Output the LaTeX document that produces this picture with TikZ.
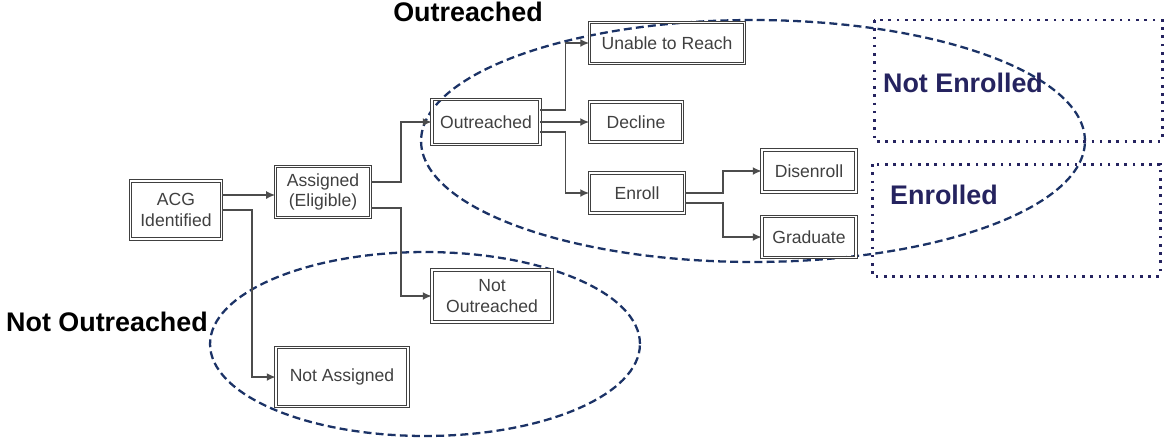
\documentclass[tikz,border=0pt]{standalone}
\usepackage{fontspec}
\setmainfont{Liberation Sans}
\usetikzlibrary{arrows.meta,calc,positioning}
\definecolor{navy}{HTML}{1B3266}
\definecolor{indigo}{HTML}{25235F}
\definecolor{boxtext}{HTML}{404040}
\tikzset{
  box/.style={draw=black!75,double,double distance=0.9pt,line width=0.55pt,
    inner sep=0pt,align=center,text=boxtext,font=\fontsize{10}{11.5}\selectfont},
  conn/.style={-{Latex[length=5pt,width=4.5pt]},draw=black!70,line width=0.75pt},
  group/.style={draw=navy,line width=1.3pt,dash pattern=on 4.5pt off 2.4pt},
  dotbox/.style={draw=indigo,line width=1.7pt,dash pattern=on 1.5pt off 3.2pt},
  title/.style={font=\bfseries\fontsize{15.3}{17}\selectfont},
  every node/.style={font=\small}
}
\begin{document}
\begin{tikzpicture}[x=0.02cm,y=-0.02cm]
\useasboundingbox (0,0) rectangle (1165,437);
% groups
\draw[group] (753,141) ellipse [x radius=6.64cm,y radius=2.42cm];
\draw[group] (425,344) ellipse [x radius=4.3cm,y radius=1.84cm];
\draw[dotbox] (874,20) rectangle (1162,141);
\draw[dotbox] (872,164) rectangle (1160,276);
\node[title] (tOut) at (468,12) {Outreached};
\node[title] (tNou) at (107,322) {Not Outreached};
\node[title,text=indigo] (tNen) at (963,83) {Not Enrolled};
\node[title,text=indigo] (tEnr) at (944,195) {Enrolled};
% boxes
\node[box,minimum width=1.82cm,minimum height=1.16cm] (acg) at (176,210) {ACG\\Identified};
\node[box,minimum width=1.9cm,minimum height=1.02cm] (ass) at (323,192) {Assigned\\(Eligible)};
\node[box,minimum width=2.16cm,minimum height=0.9cm] (out) at (486,122) {Outreached};
\node[box,minimum width=3.1cm,minimum height=0.82cm] (unr) at (667,43) {Unable to Reach};
\node[box,minimum width=1.86cm,minimum height=0.8cm] (dec) at (636,122) {Decline};
\node[box,minimum width=1.9cm,minimum height=0.8cm] (enr) at (637,193) {Enroll};
\node[box,minimum width=1.88cm,minimum height=0.84cm] (dis) at (809,171) {Disenroll};
\node[box,minimum width=1.88cm,minimum height=0.82cm] (gra) at (809,237) {Graduate};
\node[box,minimum width=2.4cm,minimum height=1.04cm] (nou) at (492,296) {Not\\Outreached};
\node[box,minimum width=2.64cm,minimum height=1.18cm] (nas) at (342,377) {Not Assigned};
% connectors
\draw[conn] ($(acg.east)+(0,-15)$) coordinate (a1) -- (a1 -| ass.west);
\draw[conn] (acg.east) -- ++(30,0) |- (nas.west);
\draw[conn] ($(ass.east)+(0,-10)$) -- ++(30,0) |- (out.west);
\draw[conn] ($(ass.east)+(0,16)$) -- ++(30,0) |- (nou.west);
\draw[conn] ($(out.east)+(0,-12)$) -- ++(25,0) |- (unr.west);
\draw[conn] (out.east) -- (dec.west);
\draw[conn] ($(out.east)+(0,10)$) -- ++(25,0) |- (enr.west);
\draw[conn] (enr.east) -- ++(38,0) |- (dis.west);
\draw[conn] ($(enr.east)+(0,10)$) -- ++(38,0) |- (gra.west);
\end{tikzpicture}
\end{document}
